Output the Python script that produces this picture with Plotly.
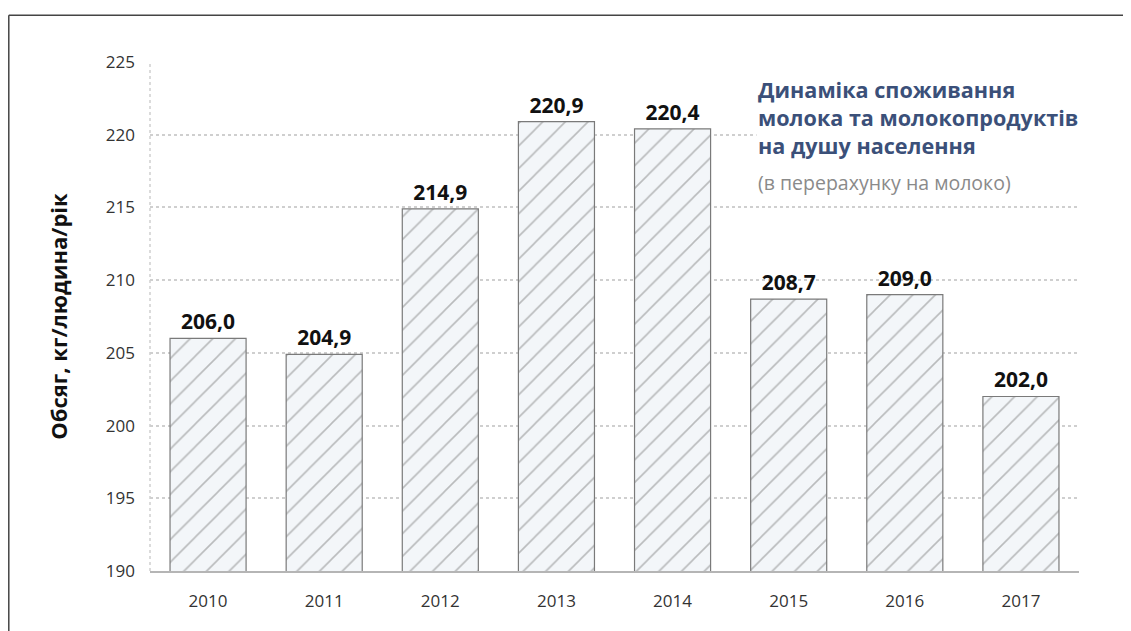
import plotly.graph_objects as go

years = ["2010", "2011", "2012", "2013", "2014", "2015", "2016", "2017"]
values = [206.0, 204.9, 214.9, 220.9, 220.4, 208.7, 209.0, 202.0]
y_ticks = [190, 195, 200, 205, 210, 215, 220, 225]

title_lines = ["Динаміка споживання", "молока та молокопродуктів", "на душу населення"]
subtitle = "(в перерахунку на молоко)"
y_title = "Обсяг, кг/людина/рік"

FONT = "Open Sans"

fig = go.Figure()
fig.add_trace(go.Bar(
    x=years, y=values,
    marker=dict(
        color="#f3f6f9",
        line=dict(color="#7a7a7a", width=1.2),
        pattern=dict(shape="/", size=16, solidity=0.1, fgcolor="#808080", bgcolor="#f3f6f9"),
    ),
    texttemplate="%{y:.1f}",
    textposition="outside",
    textfont=dict(family=FONT, size=21, color="#111111", weight="bold"),
    cliponaxis=False,
    hoverinfo="skip",
))

fig.update_layout(
    width=1131, height=631,
    margin=dict(l=142, r=60, t=54, b=68),
    paper_bgcolor="white", plot_bgcolor="white",
    separators=", ",
    bargap=0.345,
    showlegend=False,
    font=dict(family=FONT, color="#333333"),
)
fig.update_xaxes(
    type="category",
    showline=True, linecolor="#b5b5b5", linewidth=1.5,
    ticks="", showgrid=False,
    tickfont=dict(family=FONT, size=17, color="#333333"),
    ticklabelstandoff=14,
)
fig.update_yaxes(
    range=[190, 225], tickvals=y_ticks,
    showgrid=True, gridcolor="#cfcfcf", griddash="dot", gridwidth=1.5,
    zeroline=False, showline=False, ticks="",
    tickfont=dict(family=FONT, size=17, color="#333333"),
    ticklabelstandoff=14,
    title=dict(text=y_title, font=dict(family=FONT, size=22, color="#111111", weight="bold"), standoff=32),
)

# dotted left axis line
fig.add_shape(type="line", xref="x domain", yref="y domain", x0=0, x1=0, y0=0, y1=1,
              line=dict(color="#cfcfcf", width=1.5, dash="dot"), layer="below")

# frame lines
fig.add_shape(type="line", xref="paper", yref="paper", x0=-0.152, x1=1.07, y0=1.092, y1=1.092,
              line=dict(color="#444444", width=1.5))
fig.add_shape(type="line", xref="paper", yref="paper", x0=-0.152, x1=-0.152, y0=1.092, y1=-0.14,
              line=dict(color="#444444", width=1.5))

fig.add_annotation(
    xref="paper", yref="paper", x=0.652, y=0.89, xanchor="left", yanchor="middle",
    text="<br>".join(title_lines), align="left", showarrow=False,
    font=dict(family=FONT, size=21.6, color="#3b5079", weight="bold"),
    bgcolor="white",
)
fig.add_annotation(
    xref="paper", yref="paper", x=0.652, y=0.764, xanchor="left", yanchor="middle",
    text=subtitle, align="left", showarrow=False,
    font=dict(family=FONT, size=19.5, color="#8a8a8a"),
    bgcolor="white",
)

fig.write_html("out.html")
